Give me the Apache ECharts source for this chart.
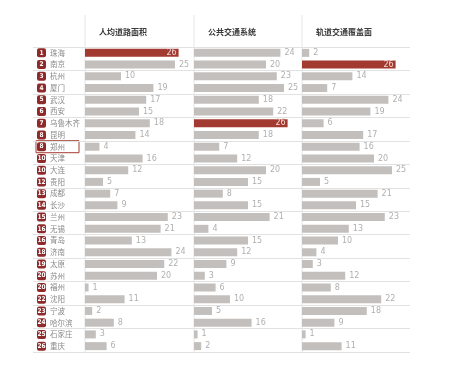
<!DOCTYPE html>
<html>
<head>
<meta charset="utf-8">
<script src="https://cdn.jsdelivr.net/npm/echarts@6/dist/echarts.min.js"></script>
<style>
  html, body { margin: 0; padding: 0; background: #fff; }
  #chart { width: 450px; height: 367px; }
</style>
</head>
<body>
<div id="chart"></div>
<script>
const cities = ["珠海", "南京", "杭州", "厦门", "武汉", "西安", "乌鲁木齐", "昆明", "郑州", "天津", "大连", "贵阳", "成都",
  "长沙", "兰州", "无锡", "青岛", "济南", "太原", "苏州", "福州", "沈阳", "宁波", "哈尔滨", "石家庄", "重庆"];
const ranks = [1, 2, 3, 4, 5, 6, 7, 8, 8, 10, 10, 12, 13, 14, 15, 16, 16, 18, 19, 20, 20, 22, 23, 24, 25, 26];
const columns = ["人均道路面积", "公共交通系统", "轨道交通覆盖面"];
const roadArea = [26, 25, 10, 19, 17, 15, 18, 14, 4, 16, 12, 5, 7, 9, 23, 21, 13, 24, 22, 20, 1, 11, 2, 8, 3, 6];
const publicTransit = [24, 20, 23, 25, 18, 22, 26, 18, 7, 12, 20, 15, 8, 15, 21, 4, 15, 12, 9, 3, 6, 10, 5, 16, 1, 2];
const railCoverage = [2, 26, 14, 7, 24, 19, 6, 17, 16, 20, 25, 5, 21, 15, 23, 13, 10, 4, 3, 12, 8, 22, 18, 9, 1, 11];
const highlightCity = "郑州";

const RED = "#a33a31";
const GRAY = "#c3bfbc";
const FONT = "Noto Sans CJK SC";
const colLeft = [85, 194, 302];
const TOP = 47, HEIGHT = 305;

const chart = echarts.init(document.getElementById("chart"));

const grids = [{ left: 33, width: 377, top: TOP, height: HEIGHT }];
const xAxes = [{ gridIndex: 0, type: "value", show: false }];
const yAxes = [{
  gridIndex: 0, type: "category", inverse: true, data: cities,
  axisLine: { show: false }, axisTick: { show: false }, axisLabel: { show: false },
  splitLine: { show: true, lineStyle: { color: "#e2e2e2", width: 1 } }
}];
const series = [];

[roadArea, publicTransit, railCoverage].forEach((vals, i) => {
  const g = i + 1;
  grids.push({ left: colLeft[i], width: 108, top: TOP, height: HEIGHT });
  xAxes.push({ gridIndex: g, type: "value", min: 0, max: 30, show: false });
  yAxes.push({
    gridIndex: g, type: "category", inverse: true, data: cities,
    axisLine: { show: false }, axisTick: { show: false },
    axisLabel: i === 0 ? {
      show: true, align: "left", margin: 48,
      fontFamily: FONT, fontSize: 7.5, color: "#8a8a8a",
      formatter: (v, idx) => "{b|" + ranks[idx] + "}{n|" + v + "}",
      rich: {
        b: {
          backgroundColor: "#8e2a2a", color: "#fff", borderRadius: 2,
          width: 9, height: 9, align: "center", fontSize: 6.5, fontWeight: "bold",
          fontFamily: "DejaVu Sans Condensed"
        },
        n: { padding: [0, 0, 0, 4], fontFamily: FONT, fontSize: 7.5, color: "#8a8a8a" }
      }
    } : { show: false }
  });
  series.push({
    type: "bar", xAxisIndex: g, yAxisIndex: g, barWidth: 8,
    data: vals.map(v => v === 26
      ? { value: v, itemStyle: { color: RED }, label: { position: "insideRight", color: "#f3dcd8", distance: 2 } }
      : { value: v }),
    itemStyle: { color: GRAY },
    label: { show: true, position: "right", distance: 4, color: "#b0b0b0", fontSize: 8, fontFamily: "DejaVu Sans" },
    silent: true
  });
});

const graphics = colLeft.map(x => ({
  type: "line", shape: { x1: x, y1: 15, x2: x, y2: 352 },
  style: { stroke: "#e6e6e6", lineWidth: 1 }
}));

chart.setOption({
  backgroundColor: "#fff",
  animation: false,
  title: columns.map((t, i) => ({
    text: t, left: colLeft[i] + 9, top: 23,
    textStyle: { fontFamily: FONT, fontSize: 8, fontWeight: "bold", color: "#3a3a3a" }
  })),
  grid: grids,
  xAxis: xAxes,
  yAxis: yAxes,
  series: series,
  graphic: graphics
});

// outline box around the highlighted city's label
const hy = chart.convertToPixel({ yAxisIndex: 1 }, highlightCity);
chart.setOption({
  graphic: graphics.concat([{
    type: "rect", shape: { x: 36, y: hy - 6, width: 43, height: 12 },
    style: { fill: "none", stroke: RED, lineWidth: 1 }
  }])
});
</script>
</body>
</html>
